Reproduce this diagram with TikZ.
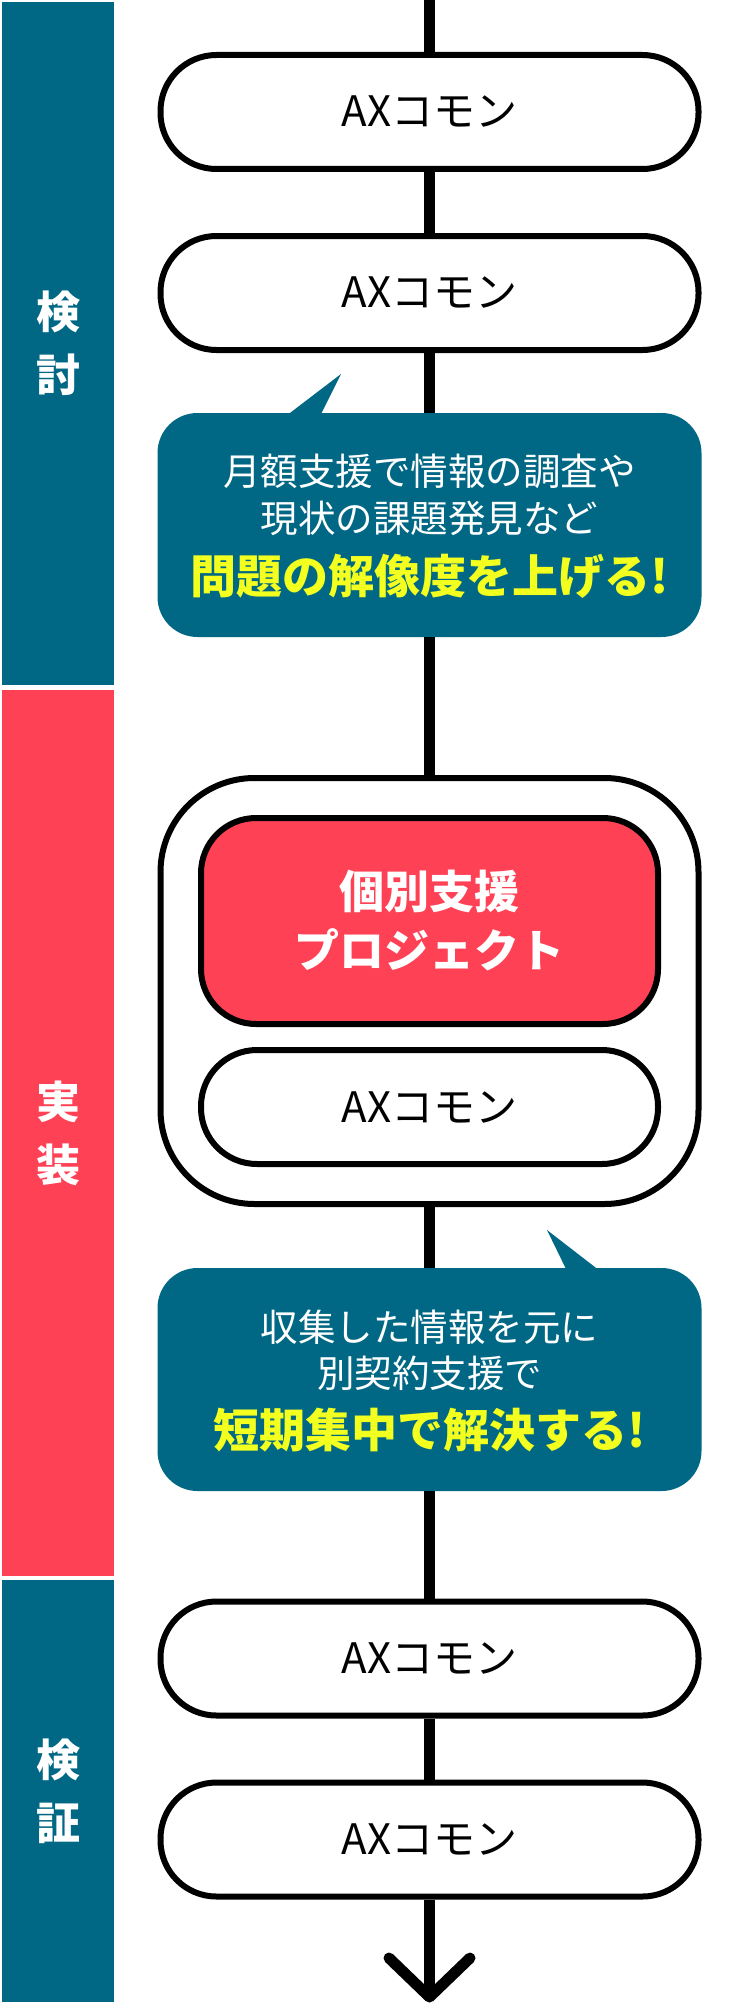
\documentclass[tikz,border=0pt]{standalone}
\usepackage{fontspec}
\setmainfont{Noto Sans CJK JP}
\usetikzlibrary{calc}
\definecolor{tealc}{HTML}{006884}
\definecolor{redc}{HTML}{FF4155}
\definecolor{yelc}{HTML}{F3FF1F}
\tikzset{
  flow/.style={line width=11pt},
  axbox/.style={draw=black, line width=6pt, fill=white, rounded corners=56pt,
    minimum width=538pt, minimum height=114pt, inner sep=0pt,
    font=\fontsize{42}{50}\selectfont},
  callout/.style={fill=tealc, rounded corners=40pt, minimum width=544pt, inner sep=0pt},
  normtxt/.style={text=white, inner sep=0pt, font=\fontsize{37.5}{45}\selectfont},
  boldtxt/.style={text=yelc, inner sep=0pt, font=\fontsize{46}{54}\selectfont\bfseries},
  bar/.style={minimum width=112pt, inner sep=0pt, text=white, align=center,
    font=\fontsize{44}{63}\selectfont\bfseries},
}
\begin{document}
\begin{tikzpicture}[x=1pt, y=-1pt]
\useasboundingbox (0,0) rectangle (748,2004);
\fill[white] (0,0) rectangle (748,2004);
% side bars
\node[bar, fill=tealc, minimum height=683pt] (bar1) at (58,343.5) {検\\討};
\node[bar, fill=redc, minimum height=886pt] (bar2) at (58,1133) {実\\装};
\node[bar, fill=tealc, minimum height=422pt] (bar3) at (58,1791) {検\\証};
% flow nodes
\coordinate (top) at (429.5,0);
\node[axbox] (ax1) at (429.5,112) {AXコモン};
\node[axbox] (ax2) at (429.5,293) {AXコモン};
\node[callout, minimum height=224pt] (call1) at (429.5,525) {};
\fill[tealc] (286,416) -- (341,374) -- (320,416) -- cycle;
\node[normtxt] (c1a) at ($(call1.center)+(0,-54)$) {月額支援で情報の調査や};
\node[normtxt] (c1b) at ($(call1.center)+(0,-7)$) {現状の課題発見など};
\node[boldtxt] (c1c) at ($(call1.center)+(0,51)$) {問題の解像度を上げる!};
\node[draw=black, line width=6pt, fill=white, rounded corners=94pt,
  minimum width=538pt, minimum height=426pt] (cont) at (429.5,991) {};
\node[draw=black, line width=6pt, fill=redc, rounded corners=55pt,
  minimum width=457pt, minimum height=206pt, inner sep=0pt, text=white, align=center,
  font=\fontsize{45}{59}\selectfont\bfseries] (proj) at (429.5,921) {個別支援\\プロジェクト};
\node[axbox, minimum width=457pt] (ax3) at (429.5,1107) {AXコモン};
\node[callout, minimum height=223pt] (call2) at (429.5,1379.5) {};
\fill[tealc] (567,1271) -- (547,1230) -- (600,1271) -- cycle;
\node[normtxt] (c2a) at ($(call2.center)+(0,-52.5)$) {収集した情報を元に};
\node[normtxt] (c2b) at ($(call2.center)+(0,-6.5)$) {別契約支援で};
\node[boldtxt] (c2c) at ($(call2.center)+(0,50.5)$) {短期集中で解決する!};
\node[axbox] (ax4) at (429.5,1658.5) {AXコモン};
\node[axbox] (ax5) at (429.5,1839.5) {AXコモン};
\coordinate (tip) at (429.5,1997);
% connectors
\draw[flow] (top) -- (ax1.north);
\draw[flow] (ax1.south) -- (ax2.north);
\draw[flow] (ax2.south) -- (call1.north);
\draw[flow] (call1.south) -- (cont.north);
\draw[flow] (cont.south) -- (call2.north);
\draw[flow] (call2.south) -- (ax4.north);
\draw[flow] (ax4.south) -- (ax5.north);
\draw[flow] (ax5.south) -- (tip);
\draw[flow, line cap=round, line join=round] ($(tip)+(-40.5,-39)$) -- (tip) -- ($(tip)+(40.5,-39)$);
\end{tikzpicture}
\end{document}
